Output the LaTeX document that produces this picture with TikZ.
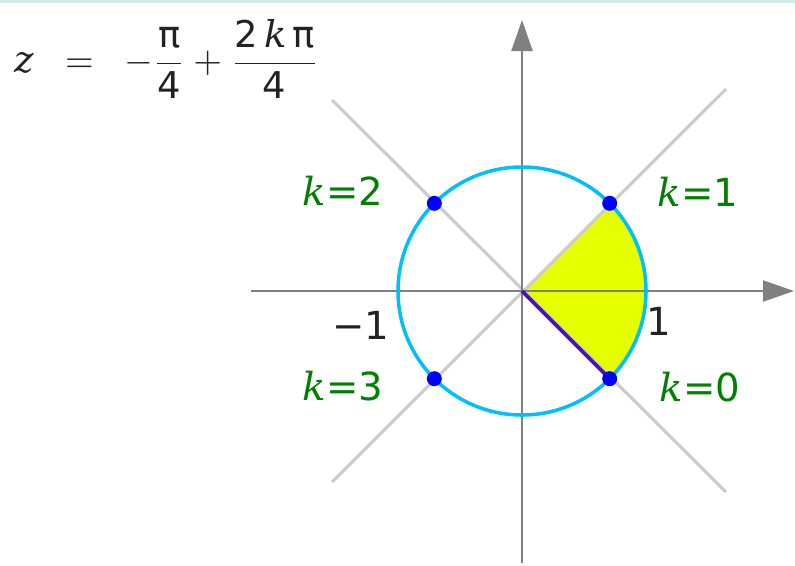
\RequirePackage{fix-cm}
\documentclass[tikz,border=0pt]{standalone}
\usepackage{amsmath}
\usepackage{fontspec}
\setmainfont{DejaVu Sans}
\newfontfamily\serifdv{DejaVu Serif}
\usetikzlibrary{arrows.meta}

\definecolor{circblue}{HTML}{00BFFF}
\definecolor{rootblue}{HTML}{0000FF}
\definecolor{sectoryellow}{HTML}{E5FF00}
\definecolor{rayviolet}{HTML}{4B0FBF}
\definecolor{diaggray}{HTML}{CCCCCC}
\definecolor{axisgray}{HTML}{808080}
\definecolor{labelgreen}{HTML}{008000}
\definecolor{textdark}{HTML}{222222}
\definecolor{bandteal}{HTML}{D4E9E9}

\newcommand\kvar{{\serifdv\itshape k}}
\newcommand\zvar{{\serifdv\itshape z}}

\begin{document}
\begin{tikzpicture}[line join=round,
    axisline/.style={draw=axisgray, line width=0.6pt, -{Triangle[length=0.31cm, width=0.21cm]}},
    diagline/.style={draw=diaggray, line width=0.9pt},
    root/.style={circle, fill=rootblue, inner sep=0pt, minimum size=0.15cm},
    klabel/.style={text=labelgreen, font=\fontsize{11}{13}\selectfont},
    ticklabel/.style={text=textdark, font=\fontsize{11}{13}\selectfont}]
    \useasboundingbox (-5.22,-2.74) rectangle (2.73,2.91);
    \fill[bandteal] (-5.22,2.88) rectangle (2.73,2.91);

    \coordinate (O) at (0,0);
    \foreach \k/\ang in {0/-45,1/45,2/135,3/225}
        \coordinate (P\k) at (\ang:1.24);

    % sector
    \fill[sectoryellow] (O) -- (P0) arc (-45:45:1.24) -- cycle;

    % diagonals
    \coordinate (DA) at (-1.90,1.91);
    \coordinate (DB) at (2.04,-2.01);
    \coordinate (DC) at (-1.90,-1.91);
    \coordinate (DD) at (2.04,2.02);
    \draw[diagline] (DA) -- (DB);
    \draw[diagline] (DC) -- (DD);

    % axes
    \coordinate (Xl) at (-2.71,0);
    \coordinate (Xr) at (2.72,0);
    \coordinate (Yb) at (0,-2.72);
    \coordinate (Yt) at (0,2.71);
    \draw[axisline] (Xl) -- (Xr);
    \draw[axisline] (Yb) -- (Yt);

    \draw[circblue, line width=1pt] (O) circle (1.24);
    \draw[rayviolet, line width=1.1pt] (O) -- (P0);

    \foreach \k in {0,...,3}
        \node[root] (R\k) at (P\k) {};

    \node[klabel] (K0) at (1.78,-0.96) {\kvar=0};
    \node[klabel] (K1) at (1.76,0.99) {\kvar=1};
    \node[klabel] (K2) at (-1.79,1.00) {\kvar=2};
    \node[klabel] (K3) at (-1.79,-0.95) {\kvar=3};

    \node[ticklabel] (M1) at (-1.61,-0.34) {−1};
    \node[ticklabel] (P1l) at (1.37,-0.30) {1};

    \node[text=textdark, font=\fontsize{10.5}{12}\selectfont] (F) at (-3.55,2.32)
        {$\text{\zvar}\;\;=\;\;-\dfrac{\text{π}}{\text{4}}+\dfrac{\text{2\,\kvar\,π}}{\text{4}}$};
\end{tikzpicture}
\end{document}
